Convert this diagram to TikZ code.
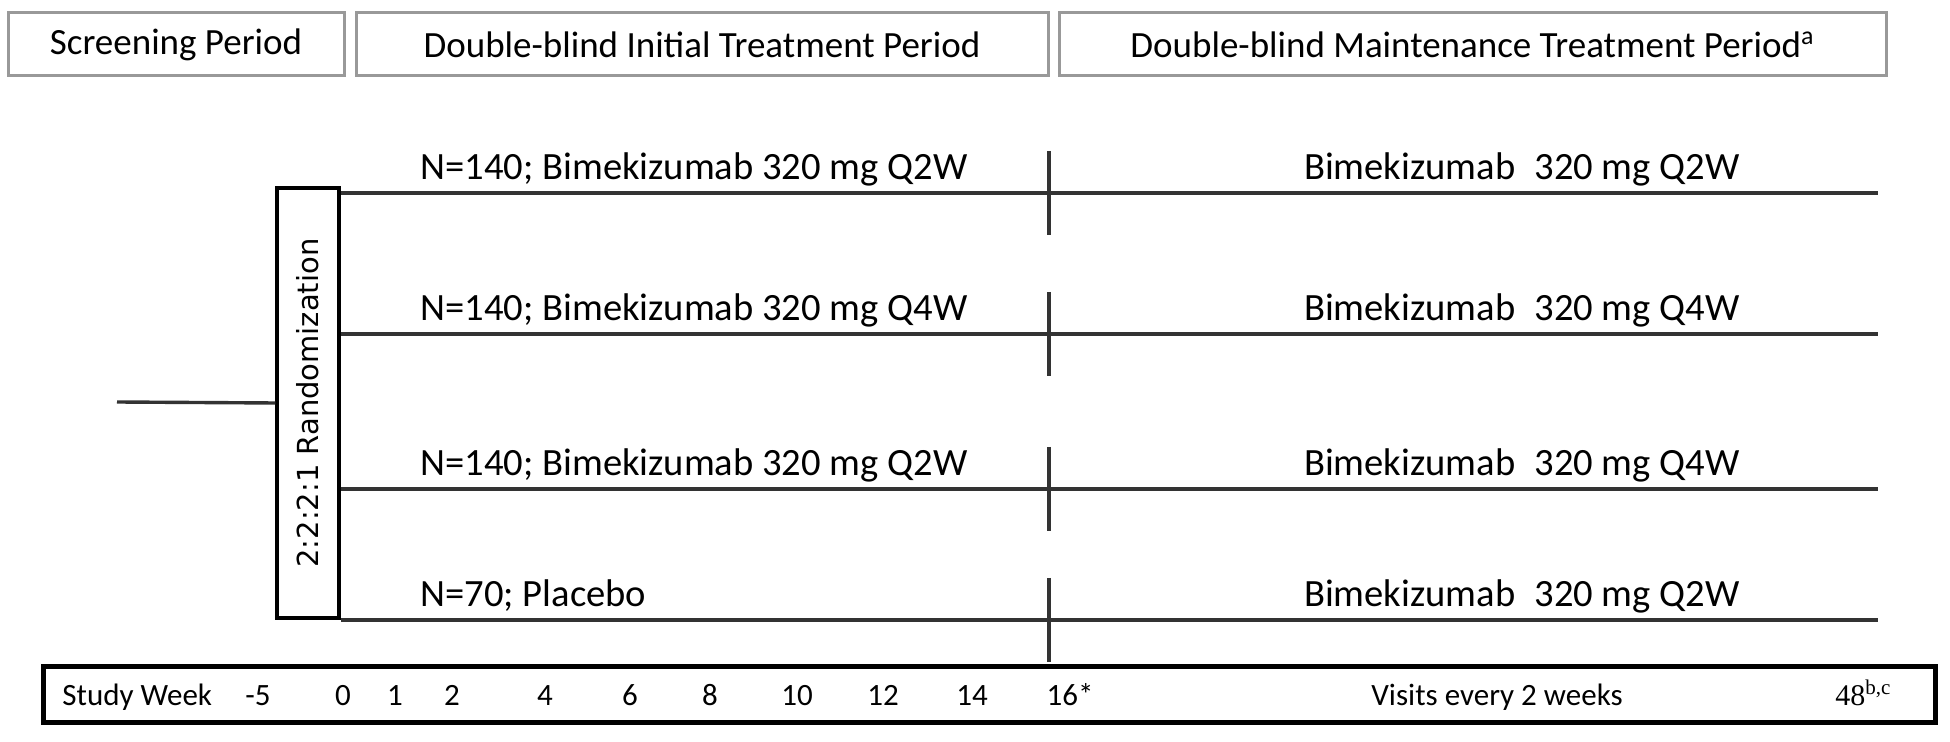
\documentclass[tikz,border=0pt]{standalone}
\usepackage{fontspec}
\setmainfont{Carlito}
\newfontfamily\ratiofont{DejaVu Sans}
\newfontfamily\weekserif{Liberation Serif}
\usetikzlibrary{positioning}
\colorlet{periodFrame}{black!40}
\colorlet{armLine}{black!80}
\tikzset{
  period box/.style={draw=periodFrame,line width=1.5pt,minimum height=31.5pt,inner sep=0pt,
    font=\fontsize{18.5}{20}\selectfont},
  arm/.style={draw=armLine,line width=1.7pt},
  arm label/.style={inner sep=0pt,font=\fontsize{19.3}{21}\selectfont},
  week/.style={inner sep=0pt,anchor=base,font=\fontsize{15.5}{17}\selectfont},
}

\begin{document}
\begin{tikzpicture}[x=0.5pt,y=-0.5pt]
\useasboundingbox (0,0) rectangle (1950,742);
% study periods
\node[period box,minimum width=168pt] (screen) at (176,44.5) {Screening Period};
\node[period box,minimum width=346pt,right=4.5pt of screen] (initial) {Double-blind Initial Treatment Period};
\node[period box,minimum width=413.5pt,right=4pt of initial] (maint) {Double-blind Maintenance Treatment Period\textsuperscript{a}};
% randomization
\node[draw,line width=1.7pt,rotate=90,minimum width=215pt,minimum height=31pt,inner sep=0pt,
  font=\ratiofont\fontsize{14.5}{16}\selectfont] (rand) at (308,403) {2:2:2:1 Randomization};
\coordinate (entry) at (117,402);
\draw[arm] (entry) -- (rand.north);
% treatment arms
\foreach \y/\lt/\rt [count=\i] in {
  193/{N=140; Bimekizumab 320 mg Q2W}/{Bimekizumab\hspace{0.5em}320 mg Q2W},
  334/{N=140; Bimekizumab 320 mg Q4W}/{Bimekizumab\hspace{0.5em}320 mg Q4W},
  489/{N=140; Bimekizumab 320 mg Q2W}/{Bimekizumab\hspace{0.5em}320 mg Q4W},
  620/{N=70; Placebo}/{Bimekizumab\hspace{0.5em}320 mg Q2W}} {
  \coordinate (arm\i) at (rand.south |- 0,\y);
  \coordinate (end\i) at (1878,\y);
  \coordinate (wk16top\i) at (1049,\y-42);
  \coordinate (wk16bot\i) at (1049,\y+42);
  \draw[arm] (arm\i) -- (end\i);
  \draw[arm] (wk16top\i) -- (wk16bot\i);
  \node[arm label,anchor=base west] (dose\i) at (420,\y-13) {\lt};
  \node[arm label,anchor=base east] (maintdose\i) at (1740,\y-13) {\rt};
}
% study weeks
\node[draw,line width=2.5pt,minimum width=946pt,minimum height=28pt,inner sep=0pt] (weeks) at (989,695) {};
\node[week,anchor=base west] (studyweek) at (62,705) {Study Week};
\foreach \x/\w in {258/-5,343/0,395/1,452/2,545/4,630/6,710/8,797/10,883/12,972/14,1070/16*}
  \node[week] (w\x) at (\x,705) {\w};
\node[week] (visits) at (1497,705) {Visits every 2 weeks};
\node[week,anchor=base west,font=\weekserif\fontsize{15}{17}\selectfont] (w48) at (1835,705) {48\textsuperscript{b,c}};
\end{tikzpicture}
\end{document}
